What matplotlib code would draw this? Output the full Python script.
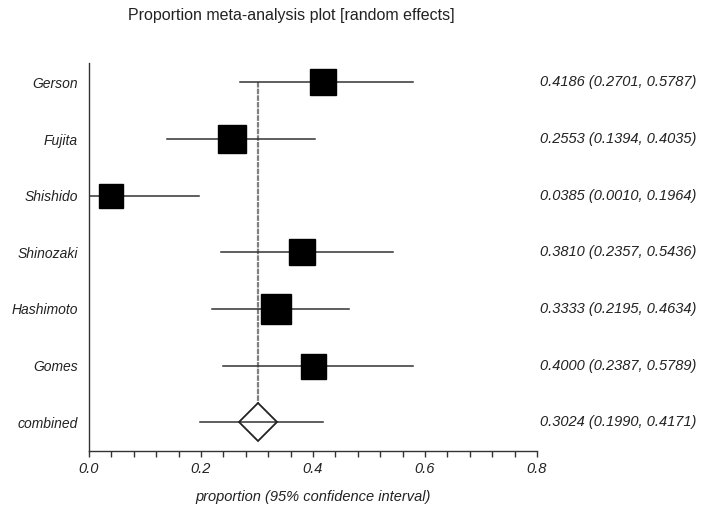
import matplotlib
matplotlib.use("Agg")
import matplotlib.pyplot as plt
from matplotlib.ticker import MultipleLocator
import matplotlib.transforms as mtransforms

plt.rcParams['font.family'] = ['Liberation Sans', 'DejaVu Sans']

studies = ["Gerson", "Fujita", "Shishido", "Shinozaki", "Hashimoto", "Gomes"]
est = [0.4186, 0.2553, 0.0385, 0.3810, 0.3333, 0.4000]
lo = [0.2701, 0.1394, 0.0010, 0.2357, 0.2195, 0.2387]
hi = [0.5787, 0.4035, 0.1964, 0.5436, 0.4634, 0.5789]
weights = [19.4, 20.7, 17.3, 18.7, 21.4, 18.0]  # relative marker sizes
comb_label = "combined"
comb_est, comb_lo, comb_hi = 0.3024, 0.1990, 0.4171
x_ticks = [0.0, 0.2, 0.4, 0.6, 0.8]

fig = plt.figure(figsize=(7.08, 5.09), dpi=100)
ax = fig.add_axes([0.1257, 0.114, 0.6328, 0.762])

n = len(studies)
ypos = list(range(n, 0, -1))

# pooled vertical line
ax.plot([comb_est, comb_est], [ypos[0], 0.335], color='0.5', lw=1.6,
        linestyle=(0, (2.5, 0.5)), zorder=1)

for y, e, l, h, w in zip(ypos, est, lo, hi, weights):
    ax.plot([l, h], [y, y], color='#333333', lw=1.1, zorder=2)
    ax.plot([e], [y], marker='s', markersize=w, color='black', zorder=3)

ax.plot([comb_lo, comb_hi], [0, 0], color='#333333', lw=1.1, zorder=2)
ax.plot([comb_est], [0], marker='D', markersize=19.4, markerfacecolor='none',
        markeredgecolor='#222222', markeredgewidth=1.3, zorder=3)

ax.set_xlim(0, 0.8)
ax.set_ylim(-0.506, n + 0.34)
ax.set_xticks(x_ticks)
ax.set_xticklabels([f"{t:.1f}" for t in x_ticks], fontstyle='italic', fontsize=10.5, color='#222222')
ax.xaxis.set_minor_locator(MultipleLocator(0.04))
ax.tick_params(axis='x', which='both', direction='out', length=4, width=1, color='#333333', pad=4)

ax.set_yticks(ypos + [0])
ax.set_yticklabels(studies + [comb_label], fontstyle='italic', fontsize=10, color='#222222')
ax.tick_params(axis='y', length=0, pad=8)

for s in ['top', 'right']:
    ax.spines[s].set_visible(False)
for s in ['left', 'bottom']:
    ax.spines[s].set_color('#333333')
    ax.spines[s].set_linewidth(1)

ax.set_xlabel("proportion (95% confidence interval)", fontstyle='italic', fontsize=10.5,
              color='#222222', labelpad=10)

trans = mtransforms.blended_transform_factory(ax.transAxes, ax.transData)
for y, e, l, h in zip(ypos + [0], est + [comb_est], lo + [comb_lo], hi + [comb_hi]):
    ax.text(1.355, y, f"{e:.4f} ({l:.4f}, {h:.4f})", transform=trans, ha='right', va='center',
            fontstyle='italic', fontsize=10.5, color='#222222')

fig.text(0.411, 0.97, "Proportion meta-analysis plot [random effects]", ha='center', va='center',
         fontsize=11.5, color='#222222')

fig.savefig("out.png", dpi=100)
